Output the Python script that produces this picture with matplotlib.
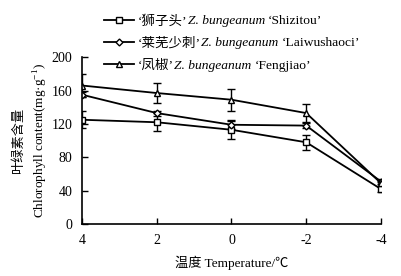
import numpy as np
import matplotlib
matplotlib.use("Agg")
import matplotlib.pyplot as plt

plt.rcParams['font.family'] = ['Liberation Serif', 'Noto Sans CJK SC']
plt.rcParams['mathtext.fontset'] = 'custom'
plt.rcParams['mathtext.rm'] = 'Liberation Serif'
plt.rcParams['axes.unicode_minus'] = False

# ── Data ────────────────────────────────────────────────────────────
temps = [4, 2, 0, -2, -4]
shizitou     = [125, 122, 113, 98, 42]
shizitou_err = [10, 11, 11.5, 9, 4]
laiwu        = [155, 133, 119, 118, 51]
laiwu_err    = [3, 3, 5, 3, 3]
fengjiao     = [166, 157, 149, 133, 49]
fengjiao_err = [14, 12.5, 13, 10.5, 3]

cn_names = ['‘狮子头’', '‘莱芜少刺’', '‘凤椒’']
en_names = ['‘Shizitou’', '‘Laiwushaoci’', '‘Fengjiao’']

fig = plt.figure(figsize=(4.01, 2.76), dpi=100)
ax = fig.add_axes([0.2045, 0.188, 0.7455, 0.605])

series = [(shizitou, shizitou_err, 's', 4.5),
          (laiwu, laiwu_err, 'D', 3.5),
          (fengjiao, fengjiao_err, '^', 5)]
handles = []
for vals, err, mk, ms in series:
    h = ax.errorbar(temps, vals, yerr=err, color='black', lw=1.3,
                    marker=mk, ms=ms, mfc='white', mec='black', mew=1.0,
                    capsize=3, elinewidth=1.0, capthick=1.0)
    handles.append(h[0])

ax.set_xlim(4, -4)
ax.set_ylim(0, 200)
ax.set_xticks(temps)
ax.set_yticks([0, 40, 80, 120, 160, 200])
ax.spines['top'].set_visible(False)
ax.spines['right'].set_visible(False)
for s in ('left', 'bottom'):
    ax.spines[s].set_linewidth(1.2)
ax.tick_params(direction='in', length=4, width=1.0, labelsize=10)
ax.tick_params(axis='x', pad=7)
ax.tick_params(axis='y', pad=7)

ax.set_xlabel('温度 Temperature/℃', fontsize=9.5, labelpad=6)
ax.set_ylabel('叶绿素含量\nChlorophyll content(mg·g$^{-1}$)', fontsize=9.5,
              labelpad=1, linespacing=1.5)

FS = 9.7
leg = fig.legend(handles=handles, labels=cn_names, loc='upper left',
                 bbox_to_anchor=(0.23, 0.99), frameon=False, fontsize=FS,
                 handlelength=2.2, handletextpad=0.3, labelspacing=0.72)

# append italic species name and cultivar name after each legend label
fig.canvas.draw()
r = fig.canvas.get_renderer()
inv = fig.transFigure.inverted()
for t, en in zip(leg.get_texts(), en_names):
    bb = t.get_window_extent(r)
    x0, y0 = inv.transform((bb.x1, (bb.y0 + bb.y1) / 2))
    t1 = fig.text(x0, y0, 'Z. bungeanum', style='italic', fontsize=FS,
                  va='center', family='Liberation Serif')
    bb1 = t1.get_window_extent(r)
    x1, _ = inv.transform((bb1.x1 + 3, 0))
    fig.text(x1, y0, en, fontsize=FS, va='center', family='Liberation Serif')

fig.savefig('out.png', dpi=100)
